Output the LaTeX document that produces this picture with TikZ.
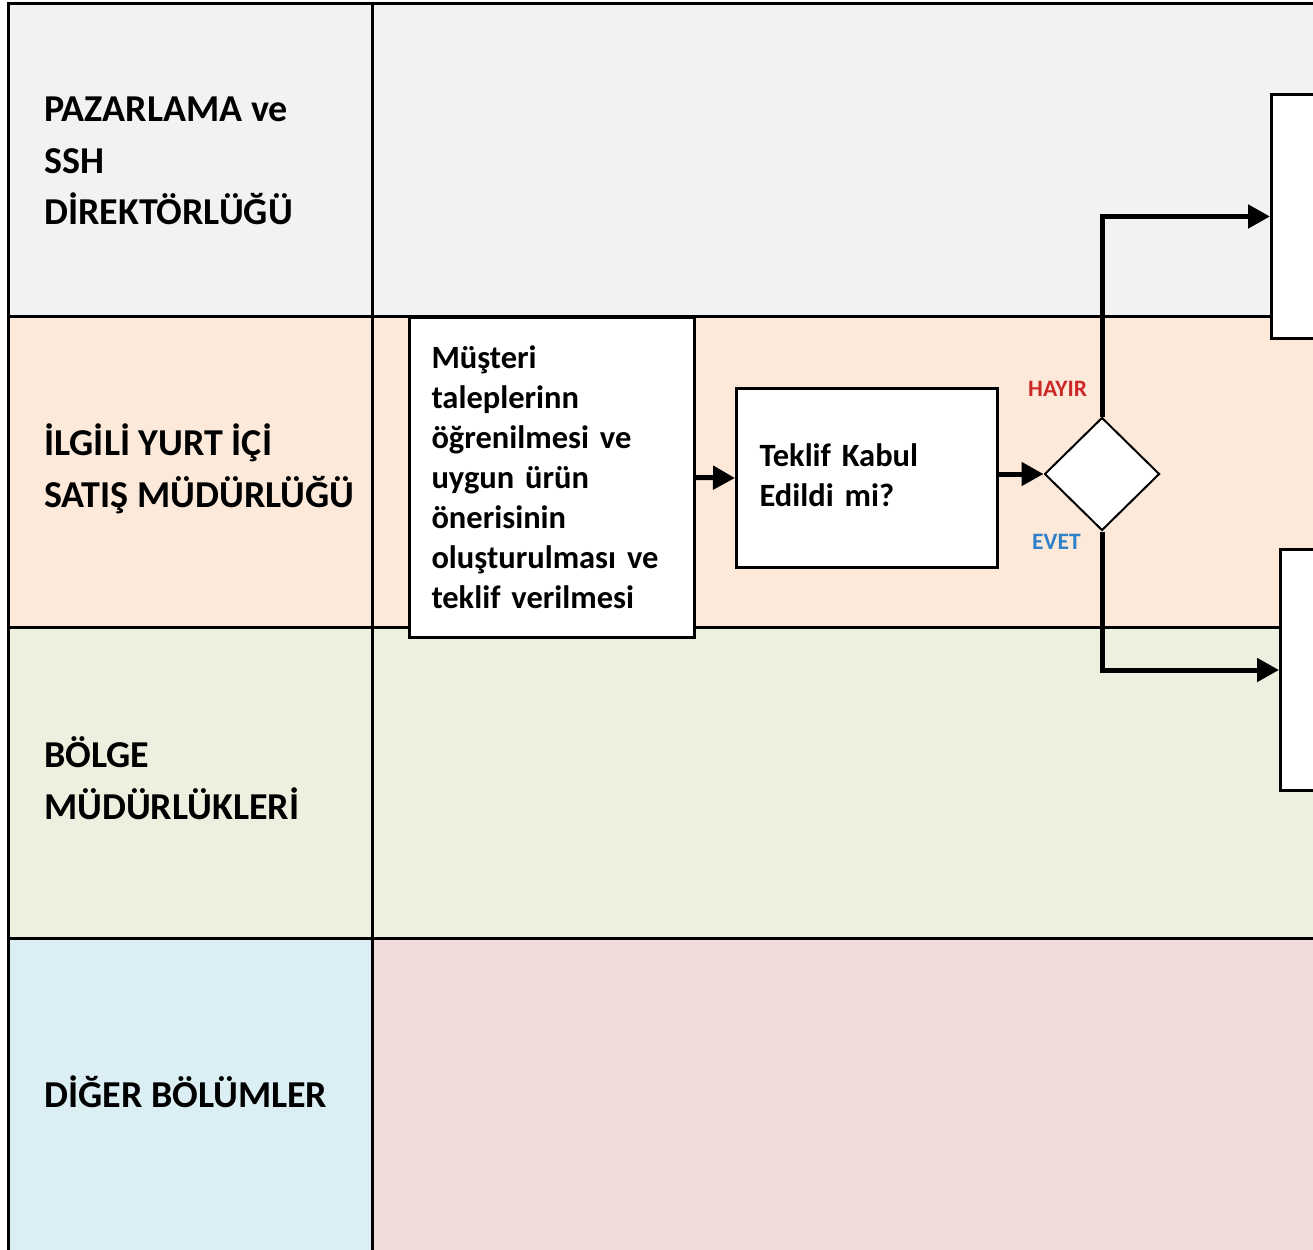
\documentclass[tikz,border=0pt]{standalone}
\usepackage{fontspec}
\setmainfont{Carlito}
\usetikzlibrary{arrows.meta,shapes.geometric}
\definecolor{lgray}{HTML}{F2F2F2}
\definecolor{lpeach}{HTML}{FCE9DA}
\definecolor{lgreen}{HTML}{EBF0DF}
\definecolor{lblue}{HTML}{DBEEF3}
\definecolor{lpink}{HTML}{F2DCDB}
\definecolor{hayirred}{RGB}{204,40,40}
\definecolor{evetblue}{RGB}{46,128,200}
\begin{document}
\begin{tikzpicture}[x=1pt,y=-1pt,
  gridline/.style={line width=3pt},
  lanetext/.style={anchor=base west, align=left, inner sep=0pt, font=\bfseries\fontsize{38}{51.5}\selectfont},
  stepbox/.style={draw, line width=3pt, fill=white, anchor=north west, align=left, inner ysep=0pt, font=\bfseries\fontsize{32.5}{40}\selectfont},
  decision/.style={draw, diamond, line width=2pt, fill=white, inner sep=0pt, minimum width=115pt, minimum height=113pt},
  flow/.style={line width=5pt, -{Triangle[length=22pt,width=23pt]}},
  branchlabel/.style={anchor=base west, inner sep=0pt, font=\bfseries\fontsize{23.5}{28}\selectfont},
]
\useasboundingbox (0,0) rectangle (1313,1249);
\clip (0,0) rectangle (1313,1249);
\fill[white] (0,0) rectangle (1313,1249);
% lane fills
\fill[lgray]  (8,4) rectangle (1313,316);
\fill[lpeach] (8,316) rectangle (1313,627);
\fill[lgreen] (8,627) rectangle (1313,938);
\fill[lblue]  (8,938) rectangle (372,1260);
\fill[lpink]  (372,938) rectangle (1313,1260);
% grid lines
\draw[gridline] (8,1260) -- (8,4) -- (1320,4);
\draw[gridline] (372,4) -- (372,1260);
\draw[gridline] (8,316) -- (1320,316);
\draw[gridline] (8,627) -- (1320,627);
\draw[gridline] (8,938) -- (1320,938);
% lane labels (anchored at the baseline of the last line)
\node[lanetext] (t1) at (44,225) {PAZARLAMA ve\\SSH\\DİREKTÖRLÜĞÜ};
\node[lanetext] (t2) at (44,507) {İLGİLİ YURT İÇİ\\SATIŞ MÜDÜRLÜĞÜ};
\node[lanetext] (t3) at (44,819) {BÖLGE\\MÜDÜRLÜKLERİ};
\node[lanetext] (t4) at (44,1107) {DİĞER BÖLÜMLER};
% process boxes
\node[stepbox, text width=241pt, inner xsep=22pt, minimum height=320pt] (A) at (408,316)
  {Müşteri\\taleplerinn\\öğrenilmesi ve\\uygun ürün\\önerisinin\\oluşturulması ve\\teklif verilmesi};
\node[stepbox, text width=215pt, inner xsep=23pt, minimum height=179pt] (B) at (735,387)
  {\raisebox{5pt}{Teklif Kabul}\\\raisebox{5pt}{Edildi mi?}};
\node[decision] (dec) at (1102,474) {};
\node[stepbox, minimum width=200pt, minimum height=244pt] (C) at (1270,93) {};
\node[stepbox, minimum width=200pt, minimum height=241pt] (D) at (1279,548) {};
% connectors
\draw[flow] (A.east) -- (B.west);
\draw[flow] (B.east |- dec.west) -- (dec.west);
\draw[flow] (dec.north) |- (C.west);
\draw[flow] (dec.south) |- (D.west);
% branch labels
\node[branchlabel, text=hayirred] (hayir) at (1028,396) {HAYIR};
\node[branchlabel, text=evetblue] (evet) at (1032,549) {EVET};
\end{tikzpicture}
\end{document}
